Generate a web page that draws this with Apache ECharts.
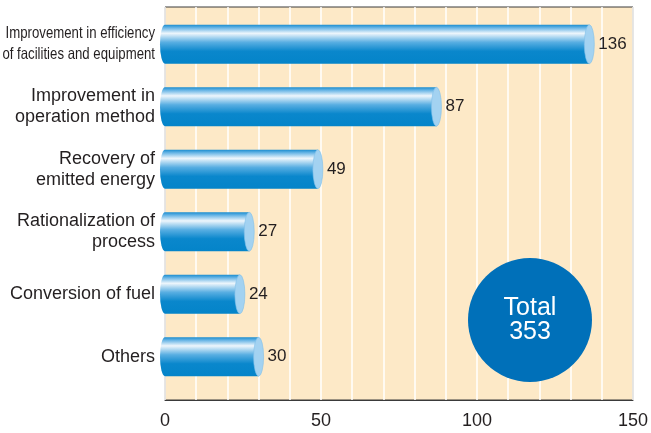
<!DOCTYPE html>
<html>
<head>
<meta charset="utf-8">
<script src="https://cdn.jsdelivr.net/npm/echarts@6/dist/echarts.min.js"></script>
<style>
  html, body { margin: 0; padding: 0; background: #ffffff; }
  #chart { width: 651px; height: 433px; }
</style>
</head>
<body>
<div id="chart"></div>
<script>
// Energy-saving measures by type (number of cases)
const categories = [
  'Improvement in efficiency\nof facilities and equipment',
  'Improvement in\noperation method',
  'Recovery of\nemitted energy',
  'Rationalization of\nprocess',
  'Conversion of fuel',
  'Others'
];
const values = [136, 87, 49, 27, 24, 30];
const xTickLabels = [0, 50, 100, 150];

const total = values.reduce((a, b) => a + b, 0);
const FONT = '"Liberation Sans", Arial, Helvetica, sans-serif';
const TEXT = '#231f20';

const chart = echarts.init(document.getElementById('chart'), null, { renderer: 'canvas' });

// Cylinder-shaped bar: shaded body with a rounded left end and a pale elliptical face on the right
function renderCylinder(params, api) {
  const v = api.value(0);
  const idx = api.value(1);
  const start = api.coord([0, idx]);
  const end = api.coord([v, idx]);
  const h = 39;
  const ry = h / 2;
  const rx = 5;
  const cy = start[1];
  const x0 = start[0];
  const x1 = end[0];
  const top = cy - ry, bot = cy + ry;
  const body = 'M' + x0 + ' ' + top + ' L' + x1 + ' ' + top + ' L' + x1 + ' ' + bot +
    ' L' + x0 + ' ' + bot + ' A' + rx + ' ' + ry + ' 0 0 1 ' + x0 + ' ' + top + ' Z';
  const face = 'M' + x1 + ' ' + top + ' A' + rx + ' ' + ry + ' 0 0 1 ' + x1 + ' ' + bot +
    ' A' + rx + ' ' + ry + ' 0 0 1 ' + x1 + ' ' + top + ' Z';
  return {
    type: 'group',
    children: [
      {
        type: 'path',
        shape: { pathData: body },
        style: {
          fill: new echarts.graphic.LinearGradient(0, 0, 0, 1, [
            { offset: 0, color: '#1a8dd0' },
            { offset: 0.08, color: '#6ab6e6' },
            { offset: 0.22, color: '#eef6fc' },
            { offset: 0.45, color: '#58aee2' },
            { offset: 0.68, color: '#0a87cc' },
            { offset: 1, color: '#0484c9' }
          ])
        }
      },
      {
        type: 'path',
        shape: { pathData: face },
        style: { fill: '#a3d2f1', stroke: '#7fbfe9', lineWidth: 0.6 }
      },
      {
        type: 'text',
        style: {
          text: String(v),
          x: x1 + rx + 4,
          y: cy,
          verticalAlign: 'middle',
          align: 'left',
          fill: TEXT,
          font: '17px ' + FONT
        }
      }
    ]
  };
}

const option = {
  animation: false,
  grid: [
    {
      left: 165, top: 7, width: 468, height: 393, containLabel: false, outerBoundsMode: 'none',
      show: true, backgroundColor: '#fde9c7', borderColor: '#3a3a3a', borderWidth: 1
    },
    { left: 165, top: 13, width: 468, height: 375, containLabel: false, outerBoundsMode: 'none' }
  ],
  xAxis: [
    {
      gridIndex: 0, type: 'value', min: 0, max: 150, interval: 10,
      axisLine: { show: true, lineStyle: { color: '#3a3a3a', width: 1 } },
      axisTick: { show: false },
      splitLine: { show: true, lineStyle: { color: '#ffffff', width: 1.5 } },
      axisLabel: {
        margin: 12, color: TEXT, fontSize: 18, fontFamily: FONT,
        formatter: (val) => (xTickLabels.indexOf(val) >= 0 ? String(val) : '')
      }
    },
    {
      gridIndex: 1, type: 'value', min: 0, max: 150, show: false
    }
  ],
  yAxis: [
    {
      gridIndex: 0, type: 'value', min: 0, max: 1, show: false
    },
    {
      gridIndex: 1, type: 'category', inverse: true, data: categories,
      axisLine: { show: false }, axisTick: { show: false },
      axisLabel: {
        margin: 10, color: TEXT, fontSize: 18, lineHeight: 21, fontFamily: FONT,
        // the long first category is set in a condensed face further below
        formatter: (val, i) => (i === 0 ? '' : val)
      }
    }
  ],
  graphic: [
    {
      type: 'text',
      x: 155, y: 44, scaleX: 0.8, z: 10,
      style: {
        text: categories[0],
        align: 'right', verticalAlign: 'middle',
        fill: TEXT, font: '16.5px ' + FONT, lineHeight: 21
      }
    },
    {
      type: 'group',
      left: 468, top: 258, z: 100,
      children: [
        { type: 'circle', shape: { cx: 62, cy: 62, r: 62 }, style: { fill: '#0070b9' }, z: 100 },
        {
          type: 'text', z: 101,
          style: {
            text: 'Total\n' + total,
            x: 62, y: 62, align: 'center', verticalAlign: 'middle',
            fill: '#ffffff', font: '25px ' + FONT, lineHeight: 24
          }
        }
      ]
    }
  ],
  series: [
    {
      type: 'custom',
      xAxisIndex: 1, yAxisIndex: 1,
      renderItem: renderCylinder,
      encode: { x: 0, y: 1 },
      data: values.map((v, i) => [v, i]),
      z: 3
    }
  ]
};

chart.setOption(option);
</script>
</body>
</html>
